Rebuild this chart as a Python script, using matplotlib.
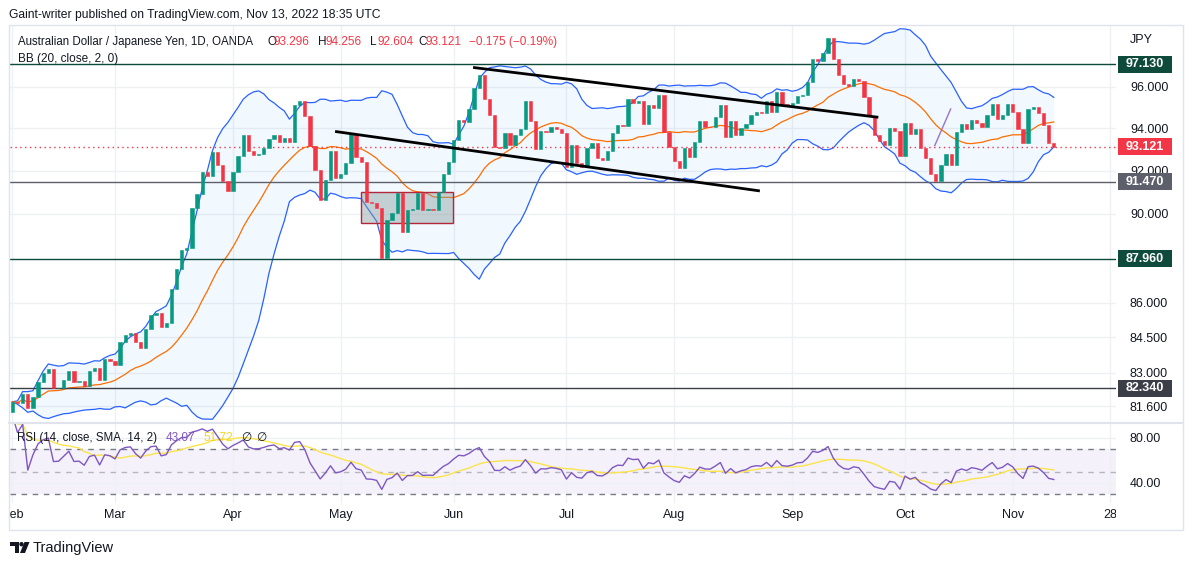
import numpy as np
import pandas as pd
import matplotlib
matplotlib.use("Agg")
import matplotlib.pyplot as plt
from matplotlib.patches import Rectangle, Polygon, Circle
from matplotlib.transforms import blended_transform_factory, Affine2D
import matplotlib.ticker as mticker

# ---------------- data ----------------
first_open = 81.36
closes = [
    81.78, 81.71, 82.10, 81.50, 81.99, 82.62, 82.97, 83.14, 82.34, 82.36,
    82.69, 83.07, 82.62, 82.64, 82.45, 83.07, 83.18, 82.69, 83.56, 83.51,
    83.34, 84.29, 84.60, 84.68, 84.32, 84.06, 84.86, 85.47, 85.56, 84.96,
    85.11, 86.60, 87.50, 88.35, 88.42, 90.28, 90.91, 91.95, 91.76, 92.89,
    92.26, 91.53, 91.06, 91.95, 92.70, 93.68, 92.94, 92.73, 92.76, 93.08,
    93.49, 93.68, 93.36, 93.55, 93.36, 95.12, 95.32, 94.61, 93.16, 92.02,
    90.63, 91.56, 92.92, 91.64, 91.84, 92.34, 93.73, 92.62, 92.38, 90.55,
    90.50, 90.25, 87.97, 89.71, 90.05, 90.97, 89.18, 90.17, 90.21, 90.97,
    90.17, 90.21, 90.17, 91.01, 91.84, 92.42, 93.44, 94.40, 94.32, 94.91,
    95.93, 96.59, 95.40, 94.64, 93.09, 93.06, 93.79, 93.20, 93.68, 93.97,
    95.32, 94.37, 93.02, 93.87, 93.84, 94.08, 93.98, 93.76, 92.18, 93.20,
    92.34, 92.18, 93.05, 93.28, 92.57, 92.50, 92.92, 93.76, 94.16, 94.11,
    95.42, 95.24, 95.32, 94.21, 95.12, 94.99, 95.61, 93.84, 93.13, 92.46,
    92.13, 93.05, 92.65, 93.33, 94.36, 94.08, 94.06, 94.53, 95.12, 93.60,
    94.36, 93.68, 94.00, 94.19, 94.64, 94.80, 94.75, 95.30, 94.80, 95.76,
    95.17, 95.09, 95.24, 95.56, 95.62, 96.25, 97.38, 97.28, 97.66, 98.41,
    97.36, 96.60, 96.16, 96.05, 96.38, 96.27, 95.53, 94.58, 93.68, 93.40,
    93.20, 94.00, 93.87, 92.70, 94.24, 93.73, 93.97, 93.05, 92.57, 91.82,
    91.51, 92.26, 92.78, 92.26, 93.84, 94.19, 93.97, 94.40, 94.27, 94.06,
    94.64, 95.17, 94.43, 94.64, 95.17, 94.80, 93.95, 93.28, 94.93, 95.01,
    94.75, 94.16, 93.296, 93.121,
]
opens = [first_open] + closes[:-1]

month_ticks = [0, 20, 43, 64, 86, 108, 129, 152, 174, 195, 214]
month_labels = ["Feb", "Mar", "Apr", "May", "Jun", "Jul", "Aug", "Sep", "Oct", "Nov", "28"]
price_ticks = [96.0, 94.0, 92.0, 90.0, 86.0, 84.5, 83.0, 81.6]
levels = [97.130, 91.470, 87.960, 82.340]
last_price = 93.121
rsi_ticks = [80, 40]

header_name = "Australian Dollar / Japanese Yen, 1D, OANDA"
hdr_o, hdr_h, hdr_l, hdr_c = "93.296", "94.256", "92.604", "93.121"
hdr_chg = "\u22120.175 (\u22120.19%)"
rsi_vals = ("43.07", "51.72")

# drawings (bar index, price)
upper_trend = ([89.8, 168.8], [96.96, 94.53])
lower_trend = ([62.9, 145.7], [93.85, 91.05])
purple_line = ([179.8, 182.9], [93.18, 94.93])
zone = (67.95, 85.9, 89.56, 90.99)

# ---------------- indicators ----------------
c = pd.Series(closes, dtype=float)
o = pd.Series(opens, dtype=float)
basis = c.rolling(20, min_periods=1).mean()
dev = c.rolling(20, min_periods=1).std(ddof=0).fillna(0)
upper = basis + 2 * dev
lower = basis - 2 * dev
delta = c - o
gain = delta.clip(lower=0)
loss = (-delta).clip(lower=0)
ag = gain.ewm(alpha=1 / 14, adjust=True).mean()
al = loss.ewm(alpha=1 / 14, adjust=True).mean()
rsi = 100 * ag / (ag + al)
rsi_sma = rsi.rolling(14, min_periods=1).mean()

idx = np.arange(len(closes))

# ---------------- figure ----------------
W, H = 1194, 565
plt.rcParams["font.family"] = ["Liberation Sans", "DejaVu Sans"]
fig = plt.figure(figsize=(W / 100, H / 100), dpi=100)

def fx(px):
    return px / W

def fy(py):
    return 1 - py / H

L, R = 10, 1116
TOP, PB = 25, 422
xl = ((L - 12.4) / 5.13, (R - 12.4) / 5.13)
TXT = "#131722"
GRID = "#eef0f4"
YMIN, YMAX = 80.94, 99.08

ax = fig.add_axes([fx(L), fy(PB), (R - L) / W, (PB - TOP) / H])
axr = fig.add_axes([fx(L), fy(503), (R - L) / W, (503 - 424) / H])
axt = fig.add_axes([fx(L), fy(530), (R - L) / W, (530 - 503) / H])

for a in (ax, axr):
    a.set_xlim(*xl)
    for s in a.spines.values():
        s.set_visible(False)
    a.set_xticks(month_ticks)
    a.tick_params(axis="x", length=0, labelbottom=False)
    a.grid(True, color=GRID, lw=1, zorder=0)
    a.set_axisbelow(True)
    a.yaxis.tick_right()
    a.tick_params(axis="y", length=0, pad=10, labelsize=9, labelcolor=TXT)

# price pane
ax.set_yscale("log")
ax.set_ylim(YMIN, YMAX)
ax.yaxis.set_major_locator(mticker.FixedLocator(price_ticks))
ax.yaxis.set_minor_locator(mticker.NullLocator())
ax.yaxis.set_major_formatter(mticker.FuncFormatter(lambda v, p: f"{v:.3f}"))

ax.fill_between(idx, lower, upper, color="#2196f3", alpha=0.06, lw=0, zorder=1)
ax.plot(idx, upper, color="#2962ff", lw=0.9, zorder=2)
ax.plot(idx, lower, color="#2962ff", lw=0.9, zorder=2)
ax.plot(idx, basis, color="#ff6d00", lw=0.9, zorder=2)

ax.add_patch(Rectangle((zone[0], zone[2]), zone[1] - zone[0], zone[3] - zone[2],
                       fc="#8a9f9f", alpha=0.45, ec="none", zorder=2.5))
ax.add_patch(Rectangle((zone[0], zone[2]), zone[1] - zone[0], zone[3] - zone[2],
                       fc="none", ec="#b2283a", lw=1, zorder=2.6))

level_colors = ["#0e4b3c", "#5d606b", "#0e4b3c", "#3b3e47"]
for lv, col in zip(levels, level_colors):
    ax.axhline(lv, color=col, lw=1, zorder=3)
ax.axhline(last_price, color="#f23645", lw=1, ls=(0, (1, 2.5)), zorder=3)

o_arr = np.array(opens)
c_arr = np.array(closes)
cols = np.where(c_arr >= o_arr, "#089981", "#f23645")
ax.bar(idx, c_arr - o_arr, bottom=o_arr, width=0.64, color=cols, edgecolor=cols,
       linewidth=0.4, zorder=4)

ax.plot(*upper_trend, color="#000000", lw=2.0, zorder=5, solid_capstyle="butt")
ax.plot(*lower_trend, color="#000000", lw=2.0, zorder=5, solid_capstyle="butt")
ax.plot(*purple_line, color="#9575cd", lw=1.0, zorder=5)

# price scale boxes
btr = blended_transform_factory(fig.transFigure, ax.transData)
kpx = (PB - TOP) / np.log(YMAX / YMIN)
hb = np.exp(8.5 / kpx)
for lv, col in zip(levels + [last_price], level_colors + ["#f23645"]):
    fig.add_artist(Rectangle((fx(1118), lv / hb), (1172 - 1118) / W, lv * hb - lv / hb,
                             transform=btr, fc=col, ec="none", zorder=9))
    fig.text(fx(1145), lv, f"{lv:.3f}", transform=btr, ha="center", va="center",
             color="white", fontsize=9, fontweight="bold", zorder=10)

# RSI pane
axr.set_ylim(22.2, 92.4)
axr.yaxis.set_major_locator(mticker.FixedLocator(rsi_ticks))
axr.yaxis.set_major_formatter(mticker.FuncFormatter(lambda v, p: f"{v:.2f}"))
axr.axhspan(30, 70, color="#7e57c2", alpha=0.08, lw=0, zorder=0.5)
axr.axhline(70, color="#787b86", lw=1, ls=(0, (4, 4)), zorder=1)
axr.axhline(30, color="#787b86", lw=1, ls=(0, (4, 4)), zorder=1)
axr.axhline(50, color="#787b86", lw=1, ls=(0, (4, 4)), alpha=0.5, zorder=1)
axr.plot(idx, rsi_sma, color="#fbe44a", lw=1.0, zorder=2)
axr.plot(idx, rsi, color="#7e57c2", lw=1.0, zorder=3)

# time axis
axt.set_xlim(*xl)
axt.set_ylim(0, 1)
axt.axis("off")
for t, lab in zip(month_ticks, month_labels):
    axt.text(t, 0.55, lab, ha="center", va="center", fontsize=9, color=TXT, clip_on=True)

# frame and separators
fig.add_artist(Rectangle((fx(9), fy(530)), (1183 - 9) / W, (530 - 25) / H,
                         transform=fig.transFigure, fc="none", ec="#e0e3eb", lw=1))
fig.add_artist(plt.Line2D([fx(9), fx(1183)], [fy(423), fy(423)], color="#e0e3eb", lw=1.5))

# texts
def ft(x, y, s, **kw):
    kw.setdefault("fontsize", 8.5)
    kw.setdefault("color", TXT)
    kw.setdefault("va", "center")
    fig.text(fx(x), fy(y), s, **kw)

RED = "#f23645"
ft(9, 15, "Gaint-writer published on TradingView.com, Nov 13, 2022 18:35 UTC", fontsize=8.7)
ft(18, 42, header_name, fontsize=8.3)
ft(267, 42, "O"); ft(274, 42, hdr_o, color=RED)
ft(318, 42, "H"); ft(326, 42, hdr_h, color=RED)
ft(370, 42, "L"); ft(377, 42, hdr_l, color=RED)
ft(418, 42, "C"); ft(425, 42, hdr_c, color=RED)
ft(469, 42, hdr_chg, color=RED)
ft(18, 59, "BB (20, close, 2, 0)")
ft(1130, 40, "JPY", fontsize=9)
ft(17, 438, "RSI (14, close, SMA, 14, 2)", fontsize=8.3)
ft(166, 438, rsi_vals[0], color="#7e57c2")
ft(203, 438, rsi_vals[1], color="#f5d420")
ft(241, 438, "\u2205", color=TXT)
ft(256, 438, "\u2205", color=TXT)

# TradingView logo
logo = [
    Polygon([[10, 542], [19, 542], [19, 553], [15, 553], [15, 546], [10, 546]], closed=True),
    Circle((21.5, 544.2), 2.2),
    Polygon([[24.5, 542], [29.5, 542], [25, 553], [20, 553]], closed=True),
]
for p in logo:
    p.set_transform(Affine2D().scale(1 / W, -1 / H).translate(0, 1) + fig.transFigure)
    p.set_facecolor(TXT)
    p.set_edgecolor("none")
    fig.add_artist(p)
ft(33, 548, "TradingView", fontsize=10.5)

fig.savefig("out.png", dpi=100, facecolor="white")
